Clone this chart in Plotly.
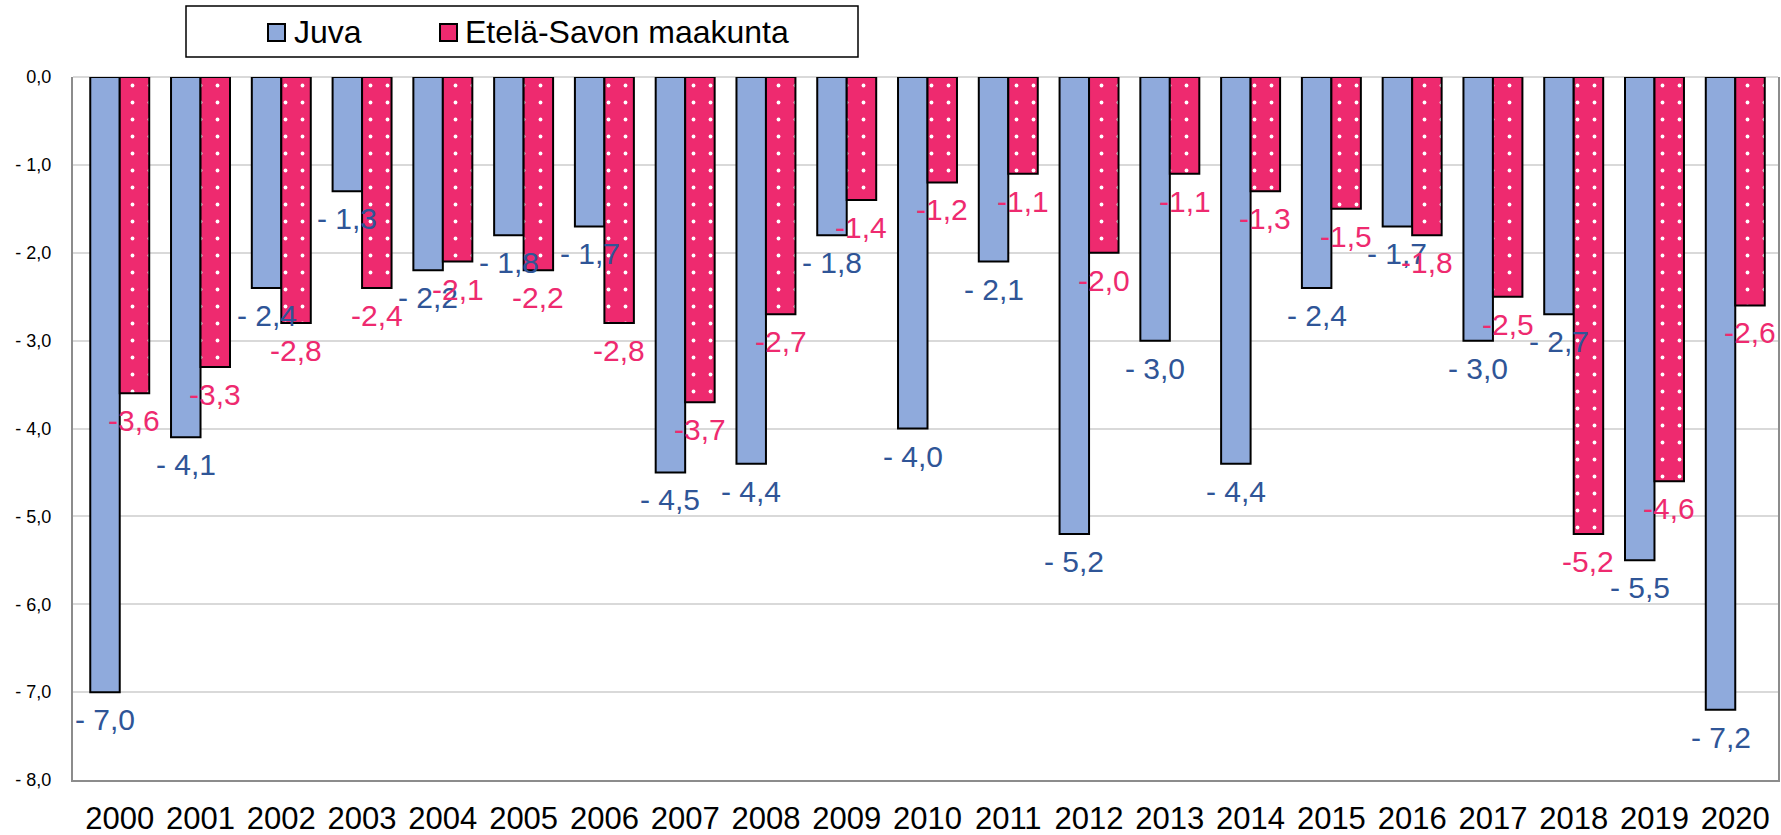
import plotly.graph_objects as go

years = [str(y) for y in range(2000, 2021)]
juva = [-7.0, -4.1, -2.4, -1.3, -2.2, -1.8, -1.7, -4.5, -4.4, -1.8, -4.0,
        -2.1, -5.2, -3.0, -4.4, -2.4, -1.7, -3.0, -2.7, -5.5, -7.2]
etela_savo = [-3.6, -3.3, -2.8, -2.4, -2.1, -2.2, -2.8, -3.7, -2.7, -1.4, -1.2,
              -1.1, -2.0, -1.1, -1.3, -1.5, -1.8, -2.5, -5.2, -4.6, -2.6]
series_names = ["Juva", "Etelä-Savon maakunta"]
y_ticks = [0, -1, -2, -3, -4, -5, -6, -7, -8]


def fi(v, spaced):
    s = f"{abs(v):.1f}".replace(".", ",")
    if v < 0:
        return ("- " if spaced else "-") + s
    return s


BLUE = "#8FAADC"
PINK = "#EE2A6F"
BLUE_TXT = "#2F5597"
PINK_TXT = "#EE2A6F"
FONT = "Liberation Sans, Arial, sans-serif"

W, H = 1781, 835
ML, MR, MT, MB = 73, 3, 77, 55
PW, PH = W - ML - MR, H - MT - MB


def px_x(px):
    return (px - ML) / PW


def px_y(py):
    return (H - MB - py) / PH


fig = go.Figure()
fig.add_trace(go.Bar(
    x=years, y=juva, name=series_names[0], showlegend=False,
    marker=dict(color=BLUE, line=dict(color="black", width=2)),
))
fig.add_trace(go.Bar(
    x=years, y=etela_savo, name=series_names[1], showlegend=False,
    marker=dict(color=PINK, line=dict(color="black", width=2),
                pattern=dict(shape=".", fgcolor="white", bgcolor=PINK,
                             size=17, solidity=0.04, fillmode="replace")),
))

bargap = 0.27
off = (1 - bargap) / 4
for i, (a, b) in enumerate(zip(juva, etela_savo)):
    fig.add_annotation(x=i - off, y=a, text=fi(a, True), showarrow=False,
                       yanchor="top", yshift=-9,
                       font=dict(family=FONT, size=30, color=BLUE_TXT))
    fig.add_annotation(x=i + off, y=b, text=fi(b, False), showarrow=False,
                       yanchor="top", yshift=-9,
                       font=dict(family=FONT, size=30, color=PINK_TXT))

# legend (drawn manually to match the boxed Excel legend)
fig.add_shape(type="rect", xref="paper", yref="paper",
              x0=px_x(186), x1=px_x(858), y0=px_y(57), y1=px_y(6),
              line=dict(color="black", width=1.5), fillcolor="white")
legend_items = [(268, BLUE, series_names[0], 292), (440, PINK, series_names[1], 463)]
for sx, col, name, tx in legend_items:
    fig.add_shape(type="rect", xref="paper", yref="paper",
                  x0=px_x(sx), x1=px_x(sx + 17), y0=px_y(41), y1=px_y(24),
                  line=dict(color="black", width=2), fillcolor=col)
    fig.add_annotation(xref="paper", yref="paper", x=px_x(tx), y=px_y(32),
                       xanchor="left", yanchor="middle", showarrow=False,
                       text=name, font=dict(family=FONT, size=32, color="black"))

fig.update_layout(
    width=W, height=H,
    margin=dict(l=ML, r=MR, t=MT, b=MB),
    paper_bgcolor="white", plot_bgcolor="white",
    barmode="group", bargap=bargap, bargroupgap=0,
    font=dict(family=FONT, color="black"),
    showlegend=False,
    xaxis=dict(type="category", showline=True, linecolor="#8C8C8C", linewidth=2,
               ticks="", tickfont=dict(size=31, color="black"), automargin=False,
               ticklabelstandoff=10, showgrid=False, mirror=False),
    yaxis=dict(range=[-8, 0], tickvals=y_ticks,
               ticktext=[fi(v, True) if v != 0 else "0,0" for v in y_ticks],
               showline=True, linecolor="#8C8C8C", linewidth=2, mirror=True,
               showgrid=True, gridcolor="#D9D9D9", gridwidth=2, automargin=False,
               zeroline=True, zerolinecolor="#D9D9D9", zerolinewidth=2,
               tickfont=dict(size=18, color="black"), ticks="", ticklabelstandoff=16),
)

fig.write_html("out.html", config={"displayModeBar": False},
               post_script="document.body.style.margin='0';document.body.style.overflow='hidden';")
